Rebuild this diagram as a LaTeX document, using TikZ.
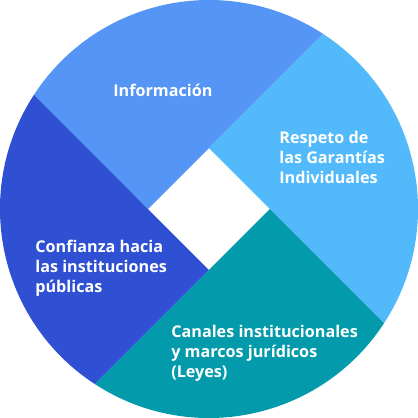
\documentclass[tikz,border=0pt]{standalone}
\usepackage{fontspec}
\setmainfont{Open Sans}
\usepackage{tikz}
\usetikzlibrary{calc}
\definecolor{infoblue}{HTML}{5495F5}
\definecolor{respblue}{HTML}{52B9FA}
\definecolor{confblue}{HTML}{3050D3}
\definecolor{canteal}{HTML}{039BAB}
\tikzset{
  seglbl/.style={text=white,font=\fontsize{9.2}{11.4}\selectfont\bfseries,
    align=left,anchor=west,inner sep=0pt},
}

\begin{document}
\begin{tikzpicture}
  % circle of radius R split in four, with a white diamond of half-diagonal d
  \def\R{4.18}
  \def\d{1.22}
  \useasboundingbox (-\R,-\R) rectangle (\R,\R);
  % --- the four segments (each bounded by two extended diamond edges) ---
  \fill[infoblue] (-\d,0) -- (0,\d) -- (56.9:\R)
    arc[start angle=56.9,end angle=146.9,radius=\R] -- cycle;
  \fill[respblue] (0,\d) -- (\d,0) -- (-33.1:\R)
    arc[start angle=-33.1,end angle=56.9,radius=\R] -- cycle;
  \fill[canteal] (\d,0) -- (0,-\d) -- (-123.1:\R)
    arc[start angle=-123.1,end angle=-33.1,radius=\R] -- cycle;
  \fill[confblue] (0,-\d) -- (-\d,0) -- (146.9:\R)
    arc[start angle=146.9,end angle=236.9,radius=\R] -- cycle;
  % --- labels ---
  \node[seglbl] (info) at (-1.92,2.38) {Información};
  \node[seglbl] (resp) at (1.40,1.04) {Respeto de\\las Garantías\\Individuales};
  \node[seglbl] (conf) at (-3.48,-1.18) {Confianza hacia\\las instituciones\\públicas};
  \node[seglbl] (can) at (-0.76,-2.88) {Canales institucionales\\y marcos jurídicos\\(Leyes)};
\end{tikzpicture}
\end{document}
